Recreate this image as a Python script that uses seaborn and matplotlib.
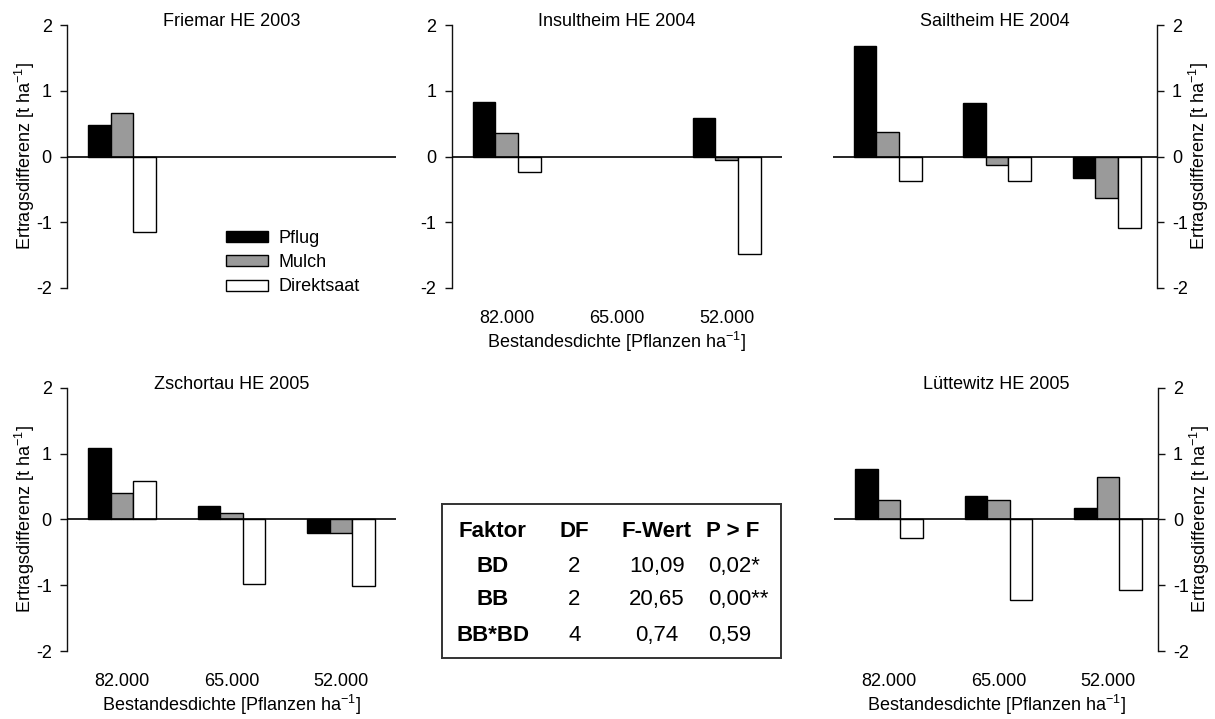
import numpy as np
import pandas as pd
import matplotlib
matplotlib.use("Agg")
import matplotlib.pyplot as plt
from matplotlib.patches import Patch
import seaborn as sns

nan = np.nan

# Bestandesdichte (Pflanzen/ha) and tillage systems
dichte = ["82.000", "65.000", "52.000"]
verfahren = ["Pflug", "Mulch", "Direktsaat"]
farben = ["#000000", "#9a9a9a", "#ffffff"]

# Ertragsdifferenz [t/ha] per site, one list per tillage system over dichte
friemar_pflug = [0.48, nan, nan]
friemar_mulch = [0.66, nan, nan]
friemar_direkt = [-1.15, nan, nan]

insultheim_pflug = [0.83, nan, 0.59]
insultheim_mulch = [0.35, nan, -0.06]
insultheim_direkt = [-0.24, nan, -1.49]

sailtheim_pflug = [1.68, 0.82, -0.33]
sailtheim_mulch = [0.37, -0.13, -0.63]
sailtheim_direkt = [-0.37, -0.38, -1.09]

zschortau_pflug = [1.08, 0.21, -0.21]
zschortau_mulch = [0.40, 0.10, -0.20]
zschortau_direkt = [0.58, -0.98, -1.01]

luettewitz_pflug = [0.77, 0.36, 0.18]
luettewitz_mulch = [0.29, 0.30, 0.65]
luettewitz_direkt = [-0.28, -1.22, -1.08]

standorte = ["Friemar HE 2003", "Insultheim HE 2004", "Sailtheim HE 2004",
             "Zschortau HE 2005", "Lüttewitz HE 2005"]

# ANOVA table
faktoren = ["BD", "BB", "BB*BD"]
freiheitsgrade = [2, 2, 4]
f_werte = [10.09, 20.65, 0.74]
p_werte = [0.02, 0.00, 0.59]
signifikanz = ["*", "**", ""]

werte = {
    "Friemar HE 2003": (friemar_pflug, friemar_mulch, friemar_direkt),
    "Insultheim HE 2004": (insultheim_pflug, insultheim_mulch, insultheim_direkt),
    "Sailtheim HE 2004": (sailtheim_pflug, sailtheim_mulch, sailtheim_direkt),
    "Zschortau HE 2005": (zschortau_pflug, zschortau_mulch, zschortau_direkt),
    "Lüttewitz HE 2005": (luettewitz_pflug, luettewitz_mulch, luettewitz_direkt),
}

rows = []
for ort in standorte:
    for v, serie in zip(verfahren, werte[ort]):
        for d, y in zip(dichte, serie):
            rows.append({"Standort": ort, "Bestandesdichte": d,
                         "Bodenbearbeitung": v, "Ertragsdifferenz": y})
df = pd.DataFrame(rows).dropna()

sns.set_style("white")
plt.rcParams["font.family"] = ["Liberation Sans", "DejaVu Sans"]
plt.rcParams["mathtext.fontset"] = "custom"
plt.rcParams["mathtext.rm"] = "Liberation Sans"
plt.rcParams["mathtext.it"] = "Liberation Sans:italic"
plt.rcParams["mathtext.bf"] = "Liberation Sans:bold"
for key in ["text.color", "axes.labelcolor", "xtick.color", "ytick.color"]:
    plt.rcParams[key] = "black"

FS = 13
W, H = 1215, 719
fig = plt.figure(figsize=(W / 100, H / 100), dpi=100)


def box(l, t, r, b):
    return [l / W, 1 - b / H, (r - l) / W, (b - t) / H]


# panel geometry: (left, top, right, bottom) in pixels, side of y axis, x labels
panels = {
    "Friemar HE 2003": (box(67, 25, 396, 288), "left", False, True),
    "Insultheim HE 2004": (box(451.7, 25, 781.7, 288), "left", True, False),
    "Sailtheim HE 2004": (box(832.7, 25, 1156.7, 288), "right", False, True),
    "Zschortau HE 2005": (box(67, 387.7, 396, 651), "left", True, True),
    "Lüttewitz HE 2005": (box(834.3, 387.7, 1157.7, 651), "right", True, True),
}

ylab = "Ertragsdifferenz [t ha$^{\\mathregular{-1}}$]"
xlab = "Bestandesdichte [Pflanzen ha$^{\\mathregular{-1}}$]"

for ort in standorte:
    pos, seite, xlabels, ylabel = panels[ort]
    ax = fig.add_axes(pos)
    sub = df[df["Standort"] == ort]
    sns.barplot(data=sub, x="Bestandesdichte", y="Ertragsdifferenz",
                hue="Bodenbearbeitung", order=dichte, hue_order=verfahren,
                palette=farben, saturation=1, width=0.62, errorbar=None,
                edgecolor="black", linewidth=1.0, legend=False, ax=ax)
    ax.axhline(0, color="black", lw=1.2, zorder=5)
    ax.set_ylim(-2, 2)
    ax.set_xlim(-0.5, 2.5 if seite == "left" else 2.455)
    ax.set_yticks([-2, -1, 0, 1, 2])
    ax.set_yticklabels(["-2", "-1", "0", "1", "2"])
    for s in ["top", "bottom", "left", "right"]:
        ax.spines[s].set_visible(False)
    ax.spines[seite].set_visible(True)
    ax.spines[seite].set_color("#111111")
    ax.spines[seite].set_linewidth(1.0)
    if seite == "right":
        ax.yaxis.tick_right()
        ax.yaxis.set_label_position("right")
    ax.tick_params(axis="y", which="both", direction="out", length=5, width=1.0,
                   color="#111111", pad=6, labelsize=FS,
                   left=(seite == "left"), right=(seite == "right"),
                   labelleft=(seite == "left"), labelright=(seite == "right"))
    ax.tick_params(axis="x", length=0, pad=16, labelsize=FS)
    if xlabels:
        ax.set_xlabel(xlab, fontsize=FS, labelpad=2)
    else:
        ax.set_xlabel("")
        ax.set_xticklabels([])
    if ylabel:
        ax.set_ylabel(ylab, fontsize=FS, labelpad=-1)
    else:
        ax.set_ylabel("")
    # panel title sits right on the top edge of the axes
    ax.text(0.5, 0.996, ort, transform=ax.transAxes, ha="center",
            va="baseline", fontsize=FS)

    if ort == "Friemar HE 2003":
        handles = [Patch(facecolor=c, edgecolor="black", linewidth=1.0)
                   for c in farben]
        ax.legend(handles, verfahren, loc="center left",
                  bbox_to_anchor=(0.482, 0.096), frameon=False, fontsize=FS,
                  borderpad=0, borderaxespad=0, handlelength=2.33,
                  handleheight=0.55, handletextpad=0.6, labelspacing=0.4)

# ANOVA table in a framed box
tab = fig.add_axes(box(441.7, 504, 780.7, 658.3))
tab.set_xlim(0, 1)
tab.set_ylim(0, 1)
tab.set_xticks([])
tab.set_yticks([])
for s in tab.spines.values():
    s.set_visible(True)
    s.set_color("#333333")
    s.set_linewidth(1.4)

TF = 16
col_x = [0.151, 0.391, 0.635, 0.859]
row_y = [0.822, 0.598, 0.378, 0.151]
kopf = ["Faktor", "DF", "F-Wert", "P > F"]
for x, t in zip(col_x, kopf):
    tab.text(x, row_y[0], t, ha="center", va="center", fontsize=TF,
             fontweight="bold")


def komma(v):
    return f"{v:.2f}".replace(".", ",")


for i, (fak, dfv, fw, pw, sig) in enumerate(
        zip(faktoren, freiheitsgrade, f_werte, p_werte, signifikanz)):
    y = row_y[i + 1]
    tab.text(col_x[0], y, fak, ha="center", va="center", fontsize=TF,
             fontweight="bold")
    tab.text(col_x[1], y, str(dfv), ha="center", va="center", fontsize=TF)
    tab.text(col_x[2], y, komma(fw), ha="center", va="center", fontsize=TF)
    tab.text(0.786, y, komma(pw) + sig, ha="left", va="center", fontsize=TF)

fig.savefig("out.png", dpi=100)
